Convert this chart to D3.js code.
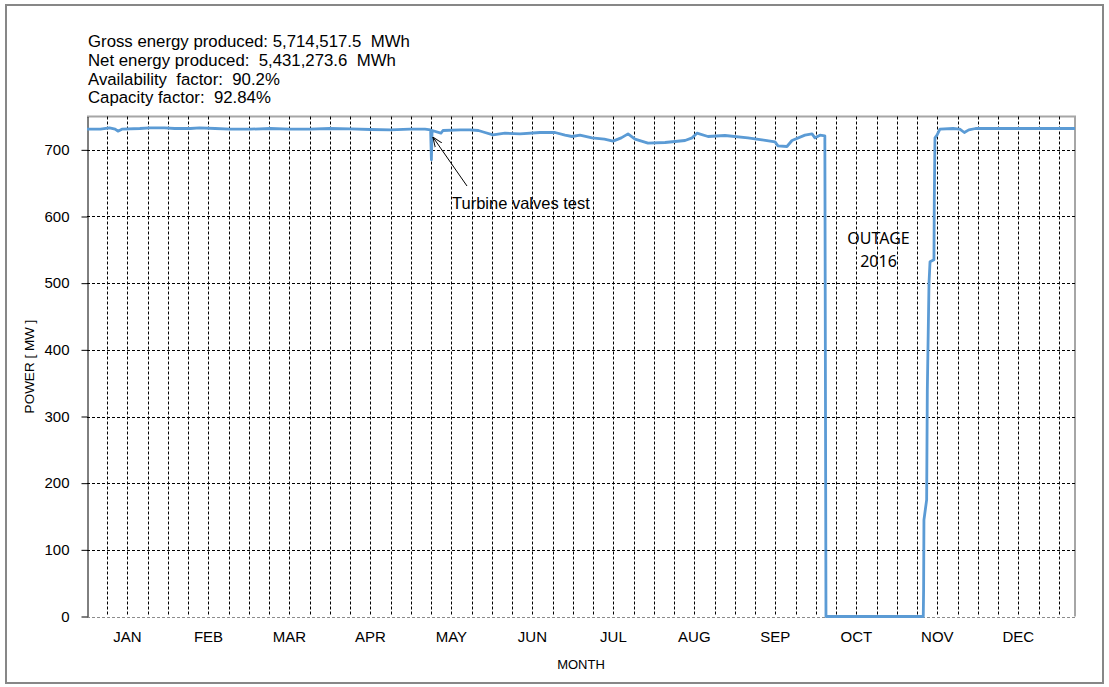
<!DOCTYPE html>
<html>
<head>
<meta charset="utf-8">
<script src="https://cdn.jsdelivr.net/npm/d3@7"></script>
<style>
  body { margin: 0; background: #fff; }
  text { font-family: "Liberation Sans", Arial, sans-serif; fill: #000; }
</style>
</head>
<body>
<div id="chart"></div>
<script>
// hour of year (2016, leap year -> 8784 h) and net output in MW
const hours = [0, 120, 200, 250, 275, 310, 470, 560, 690, 780, 920, 1000, 1140, 1270, 1450, 1630, 1800, 1980,
  2160, 2340, 2520, 2700, 2870, 3005, 3055, 3062, 3068, 3147, 3165, 3320, 3405, 3480, 3538, 3610, 3716, 3850,
  4027, 4161, 4250, 4312, 4383, 4490, 4600, 4677, 4750, 4810, 4872, 4988, 5139, 5228, 5317, 5380, 5423, 5521,
  5672, 5876, 6001, 6117, 6143, 6223, 6268, 6383, 6446, 6472, 6517, 6560, 6570, 7435, 7438, 7441, 7465, 7471,
  7486, 7495, 7530, 7533, 7539, 7557, 7583, 7700, 7760, 7800, 7840, 7900, 8100, 8400, 8784];
const power = [731, 731, 733, 731, 728, 731, 732, 733, 733, 732, 732, 733, 732, 731, 731, 732, 731, 731,
  732, 731.5, 730.5, 730, 731, 731, 730, 685, 729, 725, 729, 730, 730, 729, 726, 722.5, 725, 724,
  726, 726, 722, 720, 722, 718, 716, 713, 718, 724, 716, 710, 711, 712.5, 714, 718, 725, 720,
  721.5, 718, 715, 712, 706, 705, 714, 722, 724, 718, 722, 721, 0, 0, 40, 145, 175, 340,
  500, 532, 535, 625, 718, 722, 731, 732, 731, 726, 730, 732, 732, 732, 732];

const months = ["JAN", "FEB", "MAR", "APR", "MAY", "JUN", "JUL", "AUG", "SEP", "OCT", "NOV", "DEC"];
const yTicks = [0, 100, 200, 300, 400, 500, 600, 700];
const infoLines = [
  "Gross energy produced: 5,714,517.5  MWh",
  "Net energy produced:  5,431,273.6  MWh",
  "Availability  factor:  90.2%",
  "Capacity factor:  92.84%"
];

const W = 1109, H = 687;
const plot = { left: 87, right: 1075, top: 116.5, bottom: 616.5 };

const svg = d3.select("#chart")
  .append("svg")
  .attr("width", W)
  .attr("height", H);

svg.append("rect")
  .attr("x", 6).attr("y", 5)
  .attr("width", 1097).attr("height", 678)
  .attr("fill", "#fff")
  .attr("stroke", "#878787")
  .attr("stroke-width", 2);

const x = d3.scaleLinear().domain([0, 8784]).range([plot.left, plot.right]);
const y = d3.scaleLinear().domain([0, 750]).range([plot.bottom, plot.top]);

// plot area frame (top/right gray)
svg.append("path")
  .attr("d", `M${plot.left},${plot.top}H${plot.right}V${plot.bottom}`)
  .attr("fill", "none")
  .attr("stroke", "#a6a6a6")
  .attr("stroke-width", 2);

// vertical gridlines every 180 h
svg.append("g")
  .selectAll("line")
  .data(d3.range(180, 8784, 180))
  .join("line")
  .attr("x1", d => Math.round(x(d)) + 0.5)
  .attr("x2", d => Math.round(x(d)) + 0.5)
  .attr("y1", plot.top)
  .attr("y2", plot.bottom)
  .attr("stroke", "#000")
  .attr("stroke-dasharray", "3,2");

// horizontal gridlines
svg.append("g")
  .selectAll("line")
  .data(yTicks)
  .join("line")
  .attr("x1", plot.left)
  .attr("x2", plot.right)
  .attr("y1", d => Math.round(y(d)) + 0.5)
  .attr("y2", d => Math.round(y(d)) + 0.5)
  .attr("stroke", d => d === 0 ? "#8c8c8c" : "#000")
  .attr("stroke-dasharray", "3,2");

// y axis
const yAxis = svg.append("g")
  .attr("transform", `translate(${plot.left + 0.5},0)`)
  .call(d3.axisLeft(y).tickValues(yTicks).tickSize(6).tickPadding(12).tickSizeOuter(0));
yAxis.select(".domain").attr("stroke", "#000");
yAxis.selectAll("text").style("font-size", "15px").attr("fill", "#000");
yAxis.selectAll(".tick line").attr("stroke", "#000");

// month labels centred in each 720 h block
svg.append("g")
  .selectAll("text")
  .data(months)
  .join("text")
  .attr("x", (d, i) => x(360 + i * 720))
  .attr("y", 641.5)
  .attr("text-anchor", "middle")
  .style("font-size", "15px")
  .text(d => d);

// power line
const line = d3.line()
  .x((d, i) => x(hours[i]))
  .y(d => y(d));

svg.append("path")
  .datum(power)
  .attr("d", line)
  .attr("fill", "none")
  .attr("stroke", "#5b9bd5")
  .attr("stroke-width", 2.8)
  .attr("stroke-linejoin", "round");

// axis titles
svg.append("text")
  .attr("x", 581)
  .attr("y", 669)
  .attr("text-anchor", "middle")
  .style("font-size", "13px")
  .text("MONTH");

svg.append("text")
  .attr("transform", `translate(34,${(plot.top + plot.bottom) / 2}) rotate(-90)`)
  .attr("text-anchor", "middle")
  .style("font-size", "13.5px")
  .text("POWER [ MW ]");

// summary text
svg.append("g")
  .selectAll("text")
  .data(infoLines)
  .join("text")
  .attr("x", 88)
  .attr("y", (d, i) => 46.7 + i * 18.9)
  .attr("xml:space", "preserve")
  .style("white-space", "pre")
  .style("font-size", "16.8px")
  .text(d => d);

// annotation: turbine valves test
svg.append("defs").append("marker")
  .attr("id", "arrow")
  .attr("viewBox", "0 0 10 10")
  .attr("refX", 10).attr("refY", 5)
  .attr("markerWidth", 10).attr("markerHeight", 10)
  .attr("orient", "auto")
  .append("path")
  .attr("d", "M0,1L10,5L0,9")
  .attr("fill", "none")
  .attr("stroke", "#000")
  .attr("stroke-width", 1);

svg.append("line")
  .attr("x1", 467).attr("y1", 186)
  .attr("x2", x(3075)).attr("y2", 137)
  .attr("stroke", "#000")
  .attr("marker-end", "url(#arrow)");

svg.append("text")
  .attr("x", 452)
  .attr("y", 209)
  .style("font-size", "16.5px")
  .text("Turbine valves test");

// outage label
const outage = svg.append("text")
  .attr("text-anchor", "middle")
  .style("font-family", "'Noto Sans', sans-serif")
  .style("font-size", "16px");
outage.append("tspan").attr("x", 878.5).attr("y", 244).text("OUTAGE");
outage.append("tspan").attr("x", 878.5).attr("y", 267).text("2016");
</script>
</body>
</html>
